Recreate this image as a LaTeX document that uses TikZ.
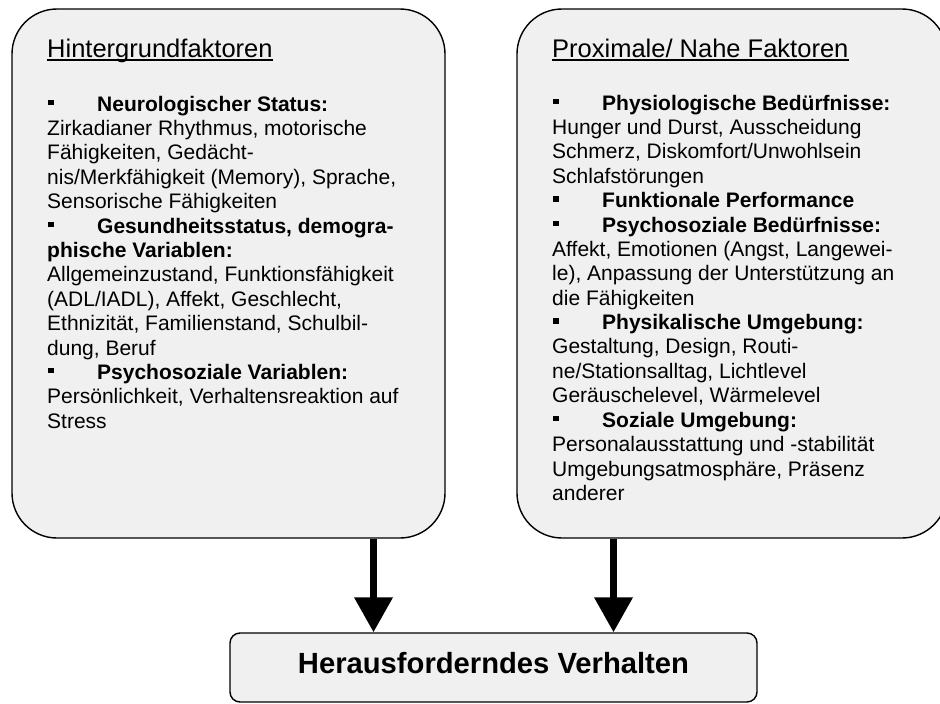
\documentclass[tikz,border=0pt]{standalone}
\usepackage{fontspec}
\setmainfont{Liberation Sans}
\usetikzlibrary{arrows.meta}
\definecolor{boxgray}{RGB}{240,240,240}
\newcommand{\sqbullet}{\makebox[50pt][l]{\hspace{1pt}\rule[6pt]{5.5pt}{5.5pt}}}
\tikzset{
  bigbox/.style={draw=black, line width=1.4pt, fill=boxgray, rounded corners=45pt, inner sep=0pt},
  smallbox/.style={draw=black, line width=1.4pt, fill=boxgray, rounded corners=10pt, inner sep=0pt},
  titletext/.style={anchor=base west, inner sep=0pt, font=\fontsize{25.5}{30}\selectfont},
  bodytext/.style={anchor=base west, inner sep=0pt},
  bigarrow/.style={line width=7pt, -{Triangle[length=35pt,width=37pt]}},
}
\newcommand{\bodyfont}{\fontsize{21}{24.4}\selectfont}
\begin{document}
\begin{tikzpicture}[x=1pt,y=-1pt]
\useasboundingbox (0,0) rectangle (940,704);
% boxes
\node[bigbox, minimum width=433pt, minimum height=529pt] (lb) at (228.5,273.5) {};
\node[bigbox, minimum width=430pt, minimum height=529pt] (rb) at (732,273.5) {};
\node[smallbox, minimum width=527pt, minimum height=69pt, text height=20pt, text depth=9pt,
      font=\bfseries\fontsize{29.2}{33}\selectfont] (hv) at (493.5,667.5) {Herausforderndes Verhalten};
% titles
\node[titletext] (lt) at (47,57) {Hintergrundfaktoren};
\node[titletext] (rt) at (552,57) {Proximale/ Nahe Faktoren};
\draw[line width=1.5pt] ([yshift=-3pt]lt.base west) -- ([yshift=-3pt]lt.base east);
\draw[line width=1.5pt] ([yshift=-3pt]rt.base west) -- ([yshift=-3pt]rt.base east);
% left text
\node[bodytext] (ltext) at (47,111) {\parbox[t]{395pt}{\bodyfont\raggedright
\sqbullet\textbf{Neurologischer Status:}\\
Zirkadianer Rhythmus, motorische\\
Fähigkeiten, Gedächt-\\
nis/Merkfähigkeit (Memory), Sprache,\\
Sensorische Fähigkeiten\\
\sqbullet\textbf{Gesundheitsstatus, demogra-}\\
\textbf{phische Variablen:}\\
Allgemeinzustand, Funktionsfähigkeit\\
(ADL/IADL), Affekt, Geschlecht,\\
Ethnizität, Familienstand, Schulbil-\\
dung, Beruf\\
\sqbullet\textbf{Psychosoziale Variablen:}\\
Persönlichkeit, Verhaltensreaktion auf\\
Stress}};
% right text
\node[bodytext] (rtext) at (552,110) {\parbox[t]{380pt}{\bodyfont\raggedright
\sqbullet\textbf{Physiologische Bedürfnisse:}\\
Hunger und Durst, Ausscheidung\\
Schmerz, Diskomfort/Unwohlsein\\
Schlafstörungen\\
\sqbullet\textbf{Funktionale Performance}\\
\sqbullet\textbf{Psychosoziale Bedürfnisse:}\\
Affekt, Emotionen (Angst, Langewei-\\
le), Anpassung der Unterstützung an\\
die Fähigkeiten\\
\sqbullet\textbf{Physikalische Umgebung:}\\
Gestaltung, Design, Routi-\\
ne/Stationsalltag, Lichtlevel\\
Geräuschelevel, Wärmelevel\\
\sqbullet\textbf{Soziale Umgebung:}\\
Personalausstattung und -stabilität\\
Umgebungsatmosphäre, Präsenz\\
anderer}};
% arrows
\coordinate (ax1) at (373.5,0);
\coordinate (ax2) at (613.5,0);
\draw[bigarrow] (ax1 |- lb.south) -- (ax1 |- hv.north);
\draw[bigarrow] (ax2 |- rb.south) -- (ax2 |- hv.north);
\end{tikzpicture}
\end{document}
